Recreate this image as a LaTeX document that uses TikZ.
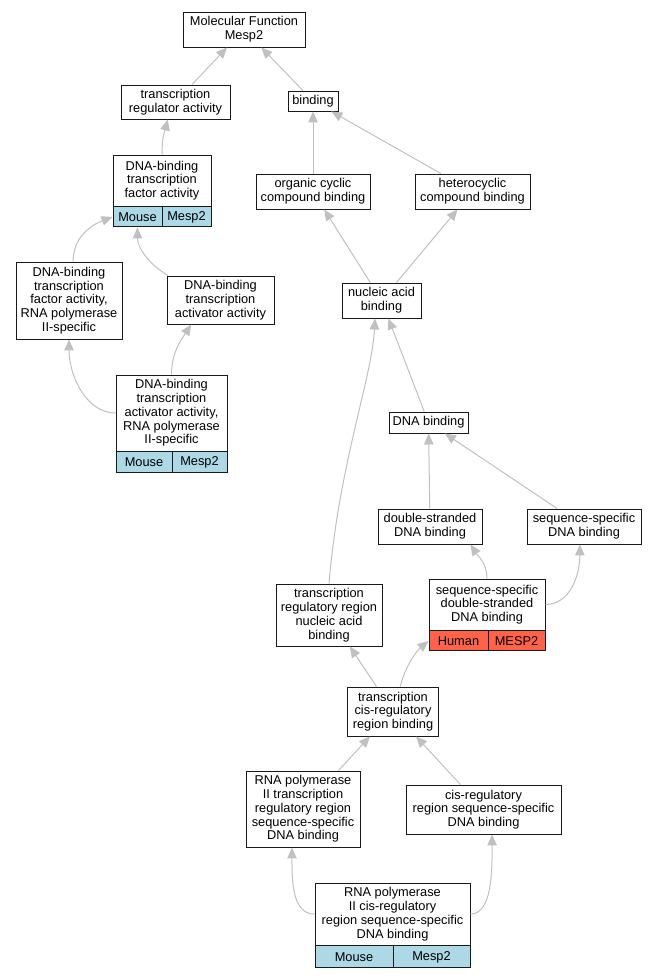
\documentclass[tikz,border=0pt]{standalone}
\usepackage{fontspec}
\setmainfont{Liberation Sans}
\usetikzlibrary{arrows.meta}
\definecolor{mouseblue}{HTML}{ADD8E6}
\definecolor{humanred}{HTML}{FF6347}
\definecolor{edgegray}{HTML}{C0C0C0}

\begin{document}
\begin{tikzpicture}[
  x=1pt, y=-1pt,
  font=\fontsize{12.8}{13.8}\selectfont,
  term/.style={draw=black!90, line width=0.95pt, fill=white, align=center, inner sep=0pt},
  mouse/.style={term, fill=mouseblue, minimum height=20pt},
  human/.style={term, fill=humanred, minimum height=20pt},
  isa/.style={draw=edgegray, line width=1pt, -{Triangle[length=11pt,width=9.5pt]}},
]
\useasboundingbox (0,0) rectangle (657,979);

% terms
\node [term, minimum width=122pt, minimum height=35pt] (mf) at (244,29.5) {Molecular Function\\Mesp2};
\node [term, minimum width=109pt, minimum height=34pt] (trreg) at (175.5,102) {transcription\\regulator activity};
\node [term, minimum width=50pt, minimum height=20pt] (binding) at (313,101) {binding};
\node [term, minimum width=98pt, minimum height=51pt] (dbtf) at (162,180.5) {DNA-binding\\transcription\\factor activity};
\node [mouse, minimum width=49pt, anchor=north west] (dbtfM) at (dbtf.south west) {Mouse};
\node [mouse, minimum width=49pt, anchor=north east] (dbtfG) at (dbtf.south east) {Mesp2};
\node [term, minimum width=114pt, minimum height=35pt] (orgcyc) at (313,191.5) {organic cyclic\\compound binding};
\node [term, minimum width=115pt, minimum height=35pt] (hetcyc) at (472.5,191.5) {heterocyclic\\compound binding};
\node [term, minimum width=106pt, minimum height=77pt] (dbtfpol) at (69,300.5) {DNA-binding\\transcription\\factor activity,\\RNA polymerase\\II-specific};
\node [term, minimum width=107pt, minimum height=48pt] (dbta) at (220.5,300) {DNA-binding\\transcription\\activator activity};
\node [term, minimum width=79pt, minimum height=35pt] (nucacid) at (381.5,300.5) {nucleic acid\\binding};
\node [term, minimum width=111pt, minimum height=76pt] (dbtapol) at (171.5,413) {DNA-binding\\transcription\\activator activity,\\RNA polymerase\\II-specific};
\node [mouse, minimum width=56pt, minimum height=21pt, anchor=north west] (dbtapolM) at (dbtapol.south west) {Mouse};
\node [mouse, minimum width=55pt, minimum height=21pt, anchor=north east] (dbtapolG) at (dbtapol.south east) {Mesp2};
\node [term, minimum width=79pt, minimum height=21pt] (dnab) at (428.5,422.5) {DNA binding};
\node [term, minimum width=104pt, minimum height=35pt] (dsdna) at (430,526.5) {double-stranded\\DNA binding};
\node [term, minimum width=114pt, minimum height=35pt] (ssdna) at (584,526.5) {sequence-specific\\DNA binding};
\node [term, minimum width=106pt, minimum height=62pt] (trrnab) at (329,615) {transcription\\regulatory region\\nucleic acid\\binding};
\node [term, minimum width=116pt, minimum height=51pt] (ssds) at (487,604.5) {sequence-specific\\double-stranded\\DNA binding};
\node [human, minimum width=59pt, anchor=north west] (ssdsH) at (ssds.south west) {Human};
\node [human, minimum width=57pt, anchor=north east] (ssdsG) at (ssds.south east) {MESP2};
\node [term, minimum width=91pt, minimum height=49pt] (tcrb) at (393,711.5) {transcription\\cis-regulatory\\region binding};
\node [term, minimum width=114pt, minimum height=76pt] (rnaptr) at (303,809) {RNA polymerase\\II transcription\\regulatory region\\sequence-specific\\DNA binding};
\node [term, minimum width=155pt, minimum height=49pt] (cisreg) at (483.5,809.5) {cis-regulatory\\region sequence-specific\\DNA binding};
\node [term, minimum width=155pt, minimum height=62pt] (rnapcis) at (392.5,914) {RNA polymerase\\II cis-regulatory\\region sequence-specific\\DNA binding};
\node [mouse, minimum width=78pt, minimum height=22pt, anchor=north west] (rnapcisM) at (rnapcis.south west) {Mouse};
\node [mouse, minimum width=77pt, minimum height=22pt, anchor=north east] (rnapcisG) at (rnapcis.south east) {Mesp2};

% is-a links
\draw [isa] (trreg) -- (mf);
\draw [isa] (binding) -- (mf);
\draw [isa] (dbtf.north) .. controls +(0,-18) and +(-3,12) .. (trreg.-114);
\draw [isa] (orgcyc) -- (binding);
\draw [isa] (hetcyc) -- (binding);
\draw [isa] (dbtfpol.84) .. controls +(0,-28) and +(-16,6) .. (dbtfM.west);
\draw [isa] (dbta.155) .. controls +(-20,-12) and +(0,20) .. (dbtfM.south);
\draw [isa] (nucacid) -- (orgcyc);
\draw [isa] (nucacid) -- (hetcyc);
\draw [isa] (dbtapol.west) .. controls +(-30,0) and +(0,35) .. (dbtfpol.south);
\draw [isa] (dbtapol.north) .. controls +(0,-22) and +(-10,15) .. (dbta.220);
\draw [isa] (dnab) -- (nucacid);
\draw [isa] (trrnab.north) .. controls +(10,-120) and +(-3,60) .. (nucacid.250);
\draw [isa] (dsdna) -- (dnab);
\draw [isa] (ssdna) -- (dnab);
\draw [isa] (ssds.north) .. controls +(0,-15) and +(8,12) .. (dsdna.-24);
\draw [isa] (ssds.east) .. controls +(25,0) and +(0,30) .. (ssdna.257);
\draw [isa] (tcrb) -- (trrnab);
\draw [isa] (tcrb.74) .. controls +(5,-20) and +(-12,10) .. (ssdsH.west);
\draw [isa] (rnaptr) -- (tcrb);
\draw [isa] (cisreg) -- (tcrb);
\draw [isa] (rnapcis.west) .. controls +(-22,0) and +(0,35) .. (rnaptr.254);
\draw [isa] (rnapcis.east) .. controls +(22,0) and +(0,35) .. (cisreg.-71);

\end{tikzpicture}
\end{document}
